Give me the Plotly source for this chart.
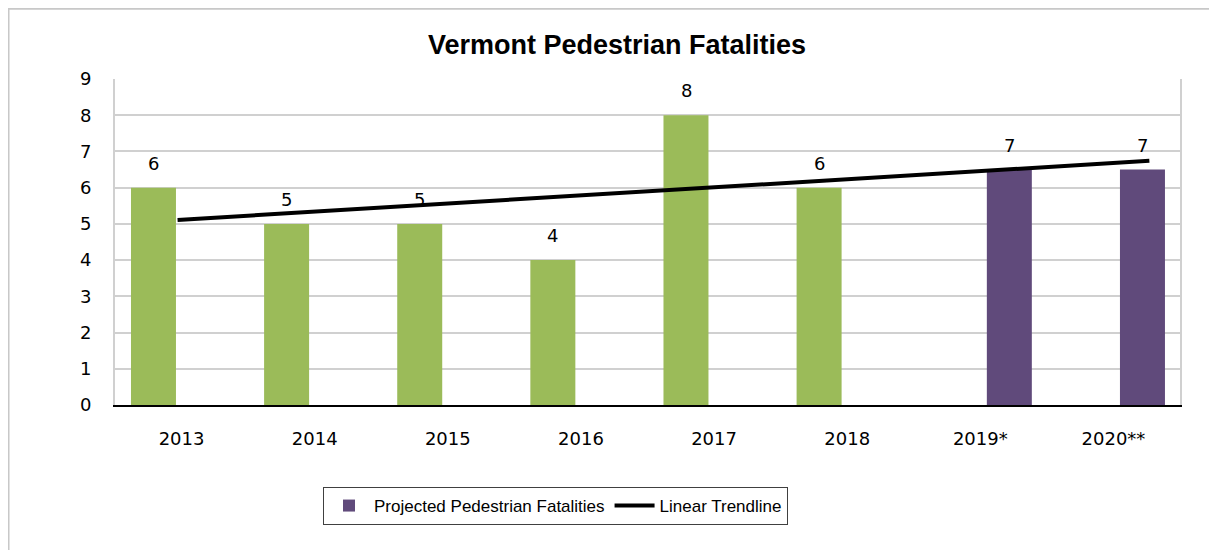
import plotly.graph_objects as go

# data
years = ["2013", "2014", "2015", "2016", "2017", "2018", "2019*", "2020**"]
actual = [6, 5, 5, 4, 8, 6]
projected = [6.5, 6.5]
actual_labels = ["6", "5", "5", "4", "8", "6"]
projected_labels = ["7", "7"]
trend_x = [-0.03, 7.27]
trend_y = [5.11, 6.74]

GREEN = "#9BBB59"
PURPLE = "#604A7B"
GRID = "#d0d0d0"
TICK_FONT = dict(family="DejaVu Sans", size=18, color="#000000")
NARROW = "Liberation Sans Narrow, Liberation Sans"

W, H = 1209, 542  # page body adds an 8px margin
L, R, T, B = 107, 37, 71, 145
BAR_W = 0.338

actual_x = list(range(len(actual)))
projected_x = list(range(len(actual), len(years)))

fig = go.Figure()
fig.add_trace(go.Bar(x=actual_x, y=actual, name="Pedestrian Fatalities",
                     width=BAR_W, offset=-0.38,
                     marker=dict(color=GREEN, line=dict(width=0)), showlegend=False))
fig.add_trace(go.Bar(x=projected_x, y=projected, name="Projected Pedestrian Fatalities",
                     width=BAR_W, offset=0.049,
                     marker=dict(color=PURPLE, line=dict(width=0))))
fig.add_trace(go.Scatter(x=trend_x, y=trend_y, mode="lines", name="Linear Trendline",
                         line=dict(color="#000000", width=4)))

# data labels sit a little above each bar, like the Excel original
annotations = []
for xi, v, t in zip(actual_x, actual, actual_labels):
    annotations.append(dict(x=xi, y=v, text=t, xshift=-28, yshift=12, showarrow=False,
                            yanchor="bottom", font=TICK_FONT))
for xi, v, t in zip(projected_x, projected, projected_labels):
    annotations.append(dict(x=xi, y=v, text=t, xshift=29, yshift=12, showarrow=False,
                            yanchor="bottom", font=TICK_FONT))

pw = W - L - R
ph = H - T - B
fig.update_layout(
    width=W, height=H,
    margin=dict(l=L, r=R, t=T, b=B),
    paper_bgcolor="white", plot_bgcolor="white",
    barmode="overlay",
    title=dict(text="<b>Vermont Pedestrian Fatalities</b>", x=(617 - 8) / W, xanchor="center",
               y=1 - (45 - 8) / H, yanchor="middle",
               font=dict(family=NARROW, size=27, color="#000000")),
    legend=dict(orientation="h", x=(323 - 8 - L) / pw, xanchor="left",
                y=-(487 - 8 - T - ph) / ph, yanchor="top",
                bordercolor="#404040", borderwidth=1, bgcolor="white",
                font=dict(family=NARROW, size=17, color="#000000"),
                itemwidth=40, traceorder="normal"),
    annotations=annotations,
    shapes=[dict(type="rect", xref="paper", yref="paper",
                 x0=(0 - L) / pw + 0.0005, x1=1.2, y0=-0.6, y1=(H - B) / ph - 0.002,
                 line=dict(color="#c8c8c8", width=2), layer="below")],
)
fig.update_xaxes(range=[-0.5, 7.5], tickvals=list(range(len(years))), ticktext=years,
                 showgrid=False, showline=True, linecolor="#000000", linewidth=2,
                 ticks="", ticklabelstandoff=16, tickfont=TICK_FONT, zeroline=False,
                 fixedrange=True)
fig.update_yaxes(range=[0, 9], dtick=1, showgrid=True, gridcolor=GRID, gridwidth=2,
                 showline=True, linecolor=GRID, linewidth=2, mirror=True,
                 ticks="", ticklabelstandoff=18, tickfont=TICK_FONT, zeroline=False,
                 fixedrange=True)

fig.write_html("out.html")
